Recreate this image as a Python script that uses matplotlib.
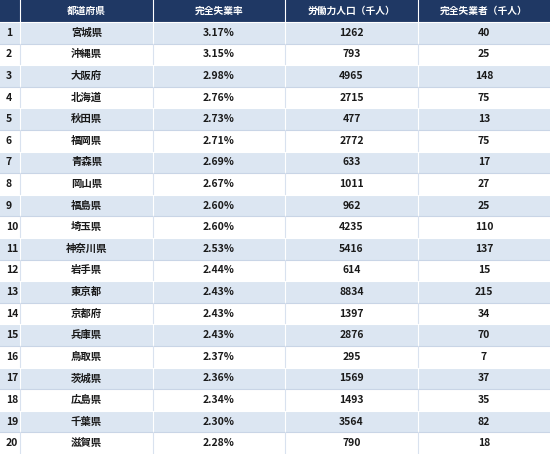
import matplotlib
matplotlib.use("Agg")
import matplotlib.pyplot as plt
from matplotlib.patches import Rectangle

plt.rcParams['font.family'] = ['Noto Sans CJK JP', 'DejaVu Sans']

headers = ["", "都道府県", "完全失業率", "労働力人口（千人）", "完全失業者（千人）"]
prefs = ["宮城県", "沖縄県", "大阪府", "北海道", "秋田県", "福岡県", "青森県", "岡山県", "福島県", "埼玉県",
         "神奈川県", "岩手県", "東京都", "京都府", "兵庫県", "鳥取県", "茨城県", "広島県", "千葉県", "滋賀県"]
rates = [3.17, 3.15, 2.98, 2.76, 2.73, 2.71, 2.69, 2.67, 2.60, 2.60,
         2.53, 2.44, 2.43, 2.43, 2.43, 2.37, 2.36, 2.34, 2.30, 2.28]
labor = [1262, 793, 4965, 2715, 477, 2772, 633, 1011, 962, 4235,
         5416, 614, 8834, 1397, 2876, 295, 1569, 1493, 3564, 790]
unemployed = [40, 25, 148, 75, 13, 75, 17, 27, 25, 110,
              137, 15, 215, 34, 70, 7, 37, 35, 82, 18]

W, H = 550, 454
col_edges = [0, 20, 153, 285, 418, 550]
header_h = 22
row_h = (H - header_h) / len(prefs)

fig = plt.figure(figsize=(5.5, 4.54), dpi=100)
ax = fig.add_axes([0, 0, 1, 1])
ax.set_xlim(0, W)
ax.set_ylim(H, 0)
ax.axis('off')

navy = '#1f3864'
light = '#dce6f2'
text_c = '#1a1a1a'

ax.add_patch(Rectangle((0, 0), W, header_h, color=navy, lw=0))
for i in range(1, 5):
    ax.plot([col_edges[i]] * 2, [0, header_h], color='white', lw=0.8)
    ax.text((col_edges[i] + col_edges[i + 1]) / 2, header_h / 2, headers[i],
            color='white', ha='center', va='center', fontsize=7, fontweight='bold')

for r in range(len(prefs)):
    y0 = header_h + r * row_h
    ax.add_patch(Rectangle((0, y0), W, row_h, color=light if r % 2 == 0 else 'white', lw=0))
    ax.plot([0, W], [y0, y0], color='white' if r % 2 == 0 else '#c9d5e6', lw=0.8)
    for i in range(1, 5):
        ax.plot([col_edges[i]] * 2, [y0, y0 + row_h], color='white' if r % 2 == 0 else '#d9e2ef', lw=0.8)
    yc = y0 + row_h / 2
    vals = [str(r + 1), prefs[r], f"{rates[r]:.2f}%", str(labor[r]), str(unemployed[r])]
    ax.text(6, yc, vals[0], ha='left', va='center', fontsize=7.5, fontweight='bold', color=text_c)
    for i in range(1, 5):
        ax.text((col_edges[i] + col_edges[i + 1]) / 2, yc, vals[i], ha='center', va='center',
                fontsize=7.5, fontweight='bold', color=text_c)

fig.savefig('out.png', dpi=100)
